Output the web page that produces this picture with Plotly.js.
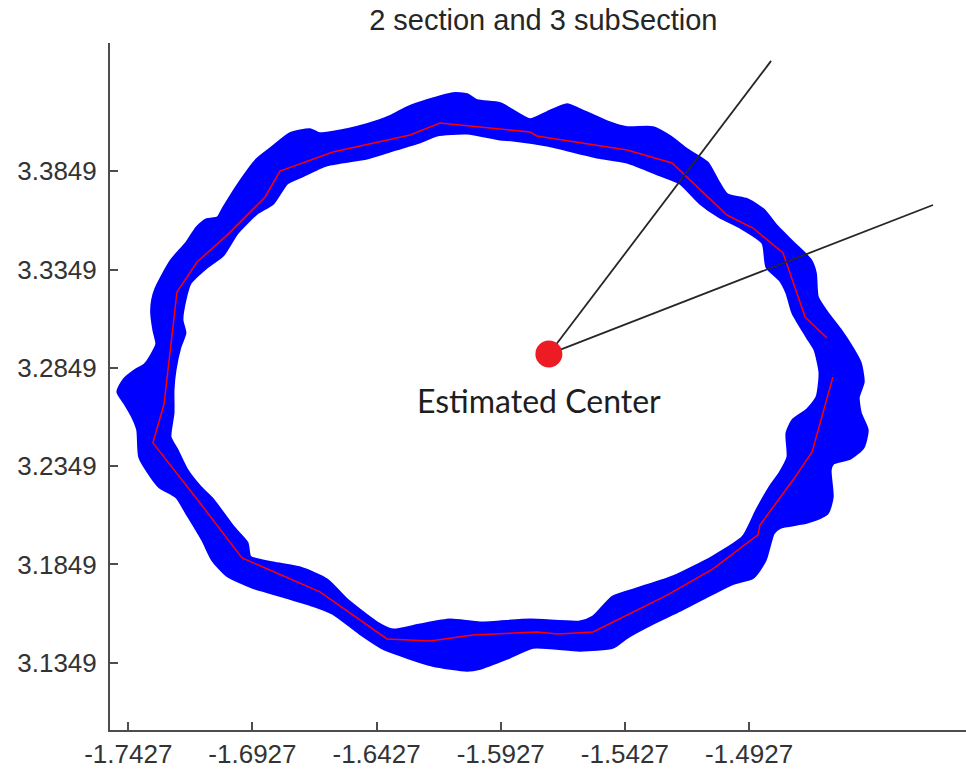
<!DOCTYPE html>
<html>
<head>
<meta charset="utf-8">
<script src="https://cdn.plot.ly/plotly-3.0.1.min.js"></script>
<style>
  html, body { margin: 0; padding: 0; background: #ffffff; }
  #chart { width: 966px; height: 774px; }
</style>
</head>
<body>
<div id="chart"></div>
<script>
// Outer edge of the scanned point band
const outerX = [-1.7468, -1.7444, -1.7400, -1.7360, -1.7332, -1.7311, -1.7323, -1.7332, -1.7328, -1.7315,
  -1.7291, -1.7251, -1.7191, -1.7150, -1.7110, -1.7066, -1.7042, -1.6989, -1.6909, -1.6848,
  -1.6776, -1.6695, -1.6655, -1.6546, -1.6466, -1.6373, -1.6304, -1.6224, -1.6119, -1.6063,
  -1.6023, -1.5930, -1.5809, -1.5741, -1.5660, -1.5608, -1.5499, -1.5418, -1.5314, -1.5245,
  -1.5177, -1.5096, -1.5056, -1.5016, -1.4935, -1.4871, -1.4814, -1.4750, -1.4681, -1.4661,
  -1.4653, -1.4613, -1.4560, -1.4508, -1.4480, -1.4468, -1.4488, -1.4480, -1.4452, -1.4468,
  -1.4520, -1.4589, -1.4601, -1.4593, -1.4613, -1.4693, -1.4802, -1.4830, -1.4863, -1.4911,
  -1.4991, -1.5072, -1.5205, -1.5314, -1.5418, -1.5475, -1.5608, -1.5797, -1.5902, -1.6010,
  -1.6063, -1.6200, -1.6304, -1.6401, -1.6494, -1.6603, -1.6683, -1.6788, -1.6925, -1.7029,
  -1.7086, -1.7126, -1.7191, -1.7231, -1.7299, -1.7332, -1.7380, -1.7388, -1.7408, -1.7440];
const outerY = [3.2726, 3.2787, 3.2833, 3.2863, 3.2914, 3.2970, 3.3041, 3.3133, 3.3194, 3.3250,
  3.3311, 3.3397, 3.3484, 3.3560, 3.3601, 3.3611, 3.3662, 3.3769, 3.3906, 3.3967,
  3.4038, 3.4059, 3.4038, 3.4059, 3.4084, 3.4125, 3.4170, 3.4206, 3.4242, 3.4237,
  3.4206, 3.4191, 3.4109, 3.4145, 3.4186, 3.4160, 3.4099, 3.4069, 3.4069, 3.4023,
  3.3957, 3.3891, 3.3804, 3.3728, 3.3703, 3.3652, 3.3565, 3.3484, 3.3397, 3.3331,
  3.3209, 3.3128, 3.3041, 3.2940, 3.2873, 3.2777, 3.2700, 3.2619, 3.2533, 3.2446,
  3.2390, 3.2365, 3.2329, 3.2192, 3.2110, 3.2065, 3.2039, 3.2009, 3.1871, 3.1785,
  3.1754, 3.1704, 3.1617, 3.1551, 3.1480, 3.1429, 3.1414, 3.1429, 3.1373, 3.1322,
  3.1312, 3.1337, 3.1378, 3.1424, 3.1500, 3.1602, 3.1642, 3.1683, 3.1734, 3.1795,
  3.1871, 3.1973, 3.2110, 3.2192, 3.2243, 3.2294, 3.2395, 3.2533, 3.2599, 3.2670];

// Inner edge of the scanned point band
const innerX = [-1.7247, -1.7239, -1.7219, -1.7199, -1.7211, -1.7199, -1.7178, -1.7110, -1.7046, -1.6989,
  -1.6909, -1.6844, -1.6788, -1.6735, -1.6627, -1.6466, -1.6361, -1.6252, -1.6184, -1.6063,
  -1.5930, -1.5878, -1.5741, -1.5539, -1.5418, -1.5285, -1.5205, -1.5124, -1.5044, -1.4963,
  -1.4871, -1.4855, -1.4802, -1.4774, -1.4750, -1.4693, -1.4661, -1.4641, -1.4653, -1.4693,
  -1.4750, -1.4774, -1.4770, -1.4802, -1.4842, -1.4895, -1.4951, -1.5072, -1.5233, -1.5366,
  -1.5475, -1.5555, -1.5608, -1.5809, -1.6010, -1.6131, -1.6252, -1.6361, -1.6425, -1.6546,
  -1.6627, -1.6735, -1.6844, -1.6937, -1.6949, -1.7005, -1.7086, -1.7138, -1.7191, -1.7231,
  -1.7259, -1.7247];
const innerY = [3.2736, 3.2838, 3.2955, 3.3026, 3.3092, 3.3194, 3.3280, 3.3362, 3.3423, 3.3535,
  3.3636, 3.3687, 3.3789, 3.3820, 3.3881, 3.3916, 3.3957, 3.3998, 3.4033, 3.4043,
  3.4013, 3.4008, 3.3982, 3.3921, 3.3896, 3.3830, 3.3789, 3.3687, 3.3616, 3.3565,
  3.3484, 3.3362, 3.3296, 3.3229, 3.3128, 3.3006, 3.2940, 3.2823, 3.2700, 3.2634,
  3.2583, 3.2517, 3.2395, 3.2314, 3.2243, 3.2126, 3.1988, 3.1887, 3.1785, 3.1729,
  3.1683, 3.1581, 3.1556, 3.1566, 3.1551, 3.1566, 3.1541, 3.1515, 3.1551, 3.1668,
  3.1770, 3.1831, 3.1856, 3.1887, 3.1958, 3.2039, 3.2177, 3.2243, 3.2329, 3.2431,
  3.2497, 3.2619];

// Fitted boundary (sections joined end to end)
const boundaryX = [-1.4589, -1.4673, -1.4750, -1.4883, -1.4891, -1.5016, -1.5072, -1.5257, -1.5555, -1.5696,
  -1.5781, -1.6039, -1.6212, -1.6385, -1.6655, -1.6969, -1.7138, -1.7328, -1.7283, -1.7231,
  -1.7150, -1.7029, -1.6876, -1.6816, -1.6603, -1.6292, -1.6172, -1.5809, -1.5781, -1.5418,
  -1.5237, -1.5016, -1.4911, -1.4790, -1.4701, -1.4613];
const boundaryY = [3.2802, 3.2421, 3.2278, 3.2049, 3.1999, 3.1882, 3.1826, 3.1693, 3.1505, 3.1495,
  3.1505, 3.1490, 3.1459, 3.1470, 3.1709, 3.1882, 3.2161, 3.2467, 3.2665, 3.3235,
  3.3387, 3.3524, 3.3718, 3.3850, 3.3947, 3.4033, 3.4094, 3.4048, 3.4028, 3.3957,
  3.3891, 3.3626, 3.3560, 3.3433, 3.3107, 3.3001];

// Estimated center and the two section rays drawn from it
const centerX = -1.5733;
const centerY = 3.2919;
const rayEndX = [-1.4838, -1.4186];
const rayEndY = [3.4410, 3.3677];

const xTickVals = [-1.7427, -1.6927, -1.6427, -1.5927, -1.5427, -1.4927];
const yTickVals = [3.1349, 3.1849, 3.2349, 3.2849, 3.3349, 3.3849];
const xTickText = ['-1.7427', '-1.6927', '-1.6427', '-1.5927', '-1.5427', '-1.4927'];
const yTickText = ['3.1349', '3.1849', '3.2349', '3.2849', '3.3349', '3.3849'];

const chartTitle = '2 section and 3 subSection';
const centerLabel = 'Estimated Center';

function closed(arr) { return arr.concat([arr[0]]); }

const traces = [];

// blue band: outer outline filled, then inner hole painted white
traces.push({
  x: closed(outerX), y: closed(outerY), type: 'scatter', mode: 'lines',
  fill: 'toself', fillcolor: '#0000ff',
  line: { color: '#0000ff', width: 3.5, shape: 'spline', smoothing: 0.6 },
  hoverinfo: 'skip'
});
traces.push({
  x: closed(innerX), y: closed(innerY), type: 'scatter', mode: 'lines',
  fill: 'toself', fillcolor: '#ffffff',
  line: { color: '#0000ff', width: 3, shape: 'spline', smoothing: 0.6 },
  hoverinfo: 'skip'
});

// fitted boundary polyline
traces.push({
  x: boundaryX, y: boundaryY, type: 'scatter', mode: 'lines',
  line: { color: '#ff0000', width: 1.5 },
  hoverinfo: 'skip'
});

// section rays
for (let i = 0; i < rayEndX.length; i++) {
  traces.push({
    x: [centerX, rayEndX[i]], y: [centerY, rayEndY[i]], type: 'scatter', mode: 'lines',
    line: { color: '#262626', width: 1.8 },
    hoverinfo: 'skip'
  });
}

// center point
traces.push({
  x: [centerX], y: [centerY], type: 'scatter', mode: 'markers',
  marker: { color: '#ed1c24', size: 27, line: { width: 0 } },
  hoverinfo: 'skip'
});

const axisColor = '#4d4d4d';
const tickFont = { family: 'Liberation Sans, Arial, sans-serif', size: 26, color: '#333333' };

const layout = {
  width: 966,
  height: 774,
  margin: { l: 110, r: 0, t: 43, b: 44 },
  paper_bgcolor: '#ffffff',
  plot_bgcolor: '#ffffff',
  showlegend: false,
  hovermode: false,
  title: {
    text: chartTitle,
    font: { family: 'Liberation Sans, Arial, sans-serif', size: 29, color: '#262626' },
    xref: 'paper', x: 0.5062, xanchor: 'center',
    yref: 'container', y: 0.974, yanchor: 'middle'
  },
  xaxis: {
    range: [-1.75007, -1.40530],
    showgrid: false, zeroline: false,
    showline: true, linecolor: axisColor, linewidth: 2,
    ticks: 'inside', ticklen: 8, tickwidth: 2, tickcolor: axisColor,
    tickmode: 'array', tickvals: xTickVals, ticktext: xTickText,
    tickfont: tickFont, ticklabelstandoff: 0
  },
  yaxis: {
    range: [3.10067, 3.45011],
    showgrid: false, zeroline: false,
    showline: true, linecolor: axisColor, linewidth: 2,
    ticks: 'inside', ticklen: 8, tickwidth: 2, tickcolor: axisColor,
    tickmode: 'array', tickvals: yTickVals, ticktext: yTickText,
    tickfont: tickFont, ticklabelstandoff: 6
  },
  annotations: [{
    x: centerX, y: centerY, xref: 'x', yref: 'y',
    text: centerLabel, showarrow: false,
    xanchor: 'center', yanchor: 'middle',
    xshift: -10, yshift: -46,
    font: { family: 'Lato, Open Sans, sans-serif', size: 32, color: '#1e1e1e' }
  }]
};

Plotly.newPlot('chart', traces, layout, { staticPlot: true, displayModeBar: false });
</script>
</body>
</html>
